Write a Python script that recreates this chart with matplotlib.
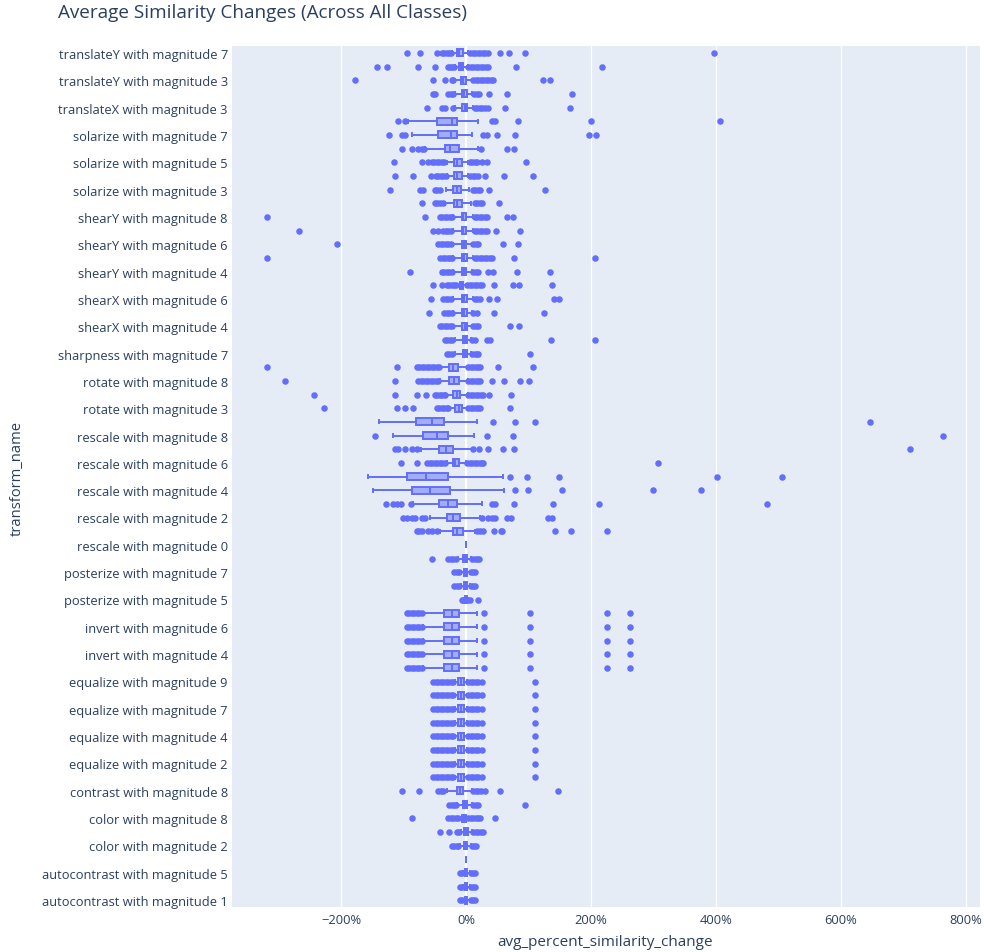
import matplotlib
matplotlib.use("Agg")
import matplotlib.pyplot as plt
from matplotlib.ticker import FuncFormatter, FixedLocator

plt.rcParams['font.family'] = ['Open Sans', 'DejaVu Sans']

# ---------------- data (values in percent) ----------------
categories = [
    "autocontrast with magnitude 1", "autocontrast with magnitude 3", "autocontrast with magnitude 5",
    "autocontrast with magnitude 9", "color with magnitude 2", "color with magnitude 5",
    "color with magnitude 8", "contrast with magnitude 2", "contrast with magnitude 8",
    "equalize with magnitude 1", "equalize with magnitude 2", "equalize with magnitude 3",
    "equalize with magnitude 4", "equalize with magnitude 6", "equalize with magnitude 7",
    "equalize with magnitude 8", "equalize with magnitude 9", "invert with magnitude 2",
    "invert with magnitude 4", "invert with magnitude 5", "invert with magnitude 6",
    "invert with magnitude 8", "posterize with magnitude 5", "posterize with magnitude 6",
    "posterize with magnitude 7", "posterize with magnitude 8", "rescale with magnitude 0",
    "rescale with magnitude 1", "rescale with magnitude 2", "rescale with magnitude 3",
    "rescale with magnitude 4", "rescale with magnitude 5", "rescale with magnitude 6",
    "rescale with magnitude 7", "rescale with magnitude 8", "rescale with magnitude 9",
    "rotate with magnitude 3", "rotate with magnitude 5", "rotate with magnitude 8",
    "rotate with magnitude 9", "sharpness with magnitude 7", "shearX with magnitude 2",
    "shearX with magnitude 4", "shearX with magnitude 5", "shearX with magnitude 6",
    "shearY with magnitude 2", "shearY with magnitude 4", "shearY with magnitude 5",
    "shearY with magnitude 6", "shearY with magnitude 7", "shearY with magnitude 8",
    "solarize with magnitude 2", "solarize with magnitude 3", "solarize with magnitude 4",
    "solarize with magnitude 5", "solarize with magnitude 6", "solarize with magnitude 7",
    "solarize with magnitude 8", "translateX with magnitude 3", "translateX with magnitude 7",
    "translateY with magnitude 3", "translateY with magnitude 5", "translateY with magnitude 7",
]

# box statistics per category (same order as categories)
whisker_low = [-4, -4, -4, 0, -10, -8, -10, -14, -31,
               -18, -18, -18, -18, -18, -18, -18, -18,
               -68, -68, -68, -68, -68,
               -3, -8, -8, -12,
               0, -42, -58, -84, -149, -156, -31, -72, -116, -139,
               -27, -33, -42, -42,
               -18, -18, -20, -20, -20,
               -14, -20, -20, -20, -20, -20,
               -33, -32, -31, -31, -66, -86, -92,
               -18, -18, -18, -17, -22]
q1 = [-1, -1, -1, 0, -3, -3, -6, -4, -15,
      -12, -12, -12, -12, -12, -12, -12, -12,
      -35, -35, -35, -35, -35,
      -1, -3, -3, -4,
      0, -21, -31, -43, -87, -95, -21, -43, -69, -80,
      -17, -21, -27, -27,
      -5, -5, -6, -6, -6,
      -10, -7, -6, -6, -7, -7,
      -19, -21, -19, -19, -34, -44, -47,
      -6, -7, -8, -11, -15]
median = [0, 0, 0, 0, 0, 0, -3, -1, -10,
          -8, -8, -8, -8, -8, -8, -8, -8,
          -23, -23, -23, -23, -23,
          0, 0, 0, -1,
          0, -14, -20, -29, -58, -64, -17, -32, -47, -55,
          -11, -15, -19, -20,
          -2, -2, -2, -3, -3,
          -8, -3, -3, -3, -4, -4,
          -14, -15, -14, -14, -26, -24, -23,
          -2, -3, -4, -8, -11]
q3 = [2, 2, 2, 0, 2, 3, 0, 2, -4,
      -3, -3, -3, -3, -3, -3, -3, -3,
      -11, -11, -11, -11, -11,
      1, 2, 2, 2,
      0, -5, -10, -15, -26, -29, -11, -20, -28, -35,
      -6, -9, -11, -12,
      1, 1, 1, 1, 1,
      -5, 0, 1, 0, 0, 0,
      -6, -8, -7, -7, -11, -15, -15,
      2, 1, 0, -5, -4]
whisker_high = [6, 6, 6, 0, 8, 10, 3, 10, 9,
                2, 2, 2, 2, 2, 2, 2, 2,
                17, 17, 17, 17, 17,
                3, 6, 6, 8,
                0, 15, 22, 25, 61, 60, 0, 9, 13, 17,
                3, 3, 3, 2,
                8, 8, 10, 10, 12,
                0, 10, 12, 10, 12, 12,
                8, 5, 4, 4, 20, 9, 19,
                12, 10, 10, 3, 4]

# outlier points per category
autocontrast_pts = [-10, -7, 8, 11, 14]
equalize_pts = [-52, -48, -44, -40, -36, -32, -28, -24, -20, 4, 8, 12, 16, 20, 25, 111]
invert_pts = [-95, -91, -87, -83, -79, -75, -71, 29, 102, 225, 262]
posterize_67_pts = [-19, -15, -11, 8, 11, 14]

outliers = [
    autocontrast_pts,                                                   # autocontrast 1
    autocontrast_pts,                                                   # autocontrast 3
    autocontrast_pts,                                                   # autocontrast 5
    [],                                                                 # autocontrast 9
    [-23, -19, -15, -12, 10, 13, 16],                                   # color 2
    [-42, -27, -15, -11, 12, 16, 20, 24, 28],                           # color 5
    [-87, -28, -24, -20, -16, -12, 4, 8, 12, 16, 20, 22, 47],           # color 8
    [-27, -23, -19, -16, 12, 16, 20, 95],                               # contrast 2
    [-102, -75, -44, -40, -36, 12, 16, 20, 24, 30, 54, 147],            # contrast 8
    equalize_pts, equalize_pts, equalize_pts, equalize_pts,
    equalize_pts, equalize_pts, equalize_pts, equalize_pts,
    invert_pts, invert_pts, invert_pts, invert_pts, invert_pts,
    [-7, -5, 4, 6, 20],                                                 # posterize 5
    posterize_67_pts,                                                   # posterize 6
    posterize_67_pts,                                                   # posterize 7
    [-55, -28, -24, -20, -16, 10, 14, 18, 21],                          # posterize 8
    [],                                                                 # rescale 0
    [-79, -75, -71, -60, -55, -47, 18, 22, 27, 45, 56, 58, 142, 168, 226],  # rescale 1
    [-100, -94, -87, -81, -71, -65, 25, 36, 42, 46, 66, 72, 132, 137],  # rescale 2
    [-128, -117, -110, -104, -88, 41, 46, 77, 140, 213, 481],           # rescale 3
    [79, 100, 154, 300, 376],                                           # rescale 4
    [70, 97, 149, 402, 505],                                            # rescale 5
    [-104, -79, -62, -58, -54, -50, -46, -42, -38, -34,
     2, 6, 10, 14, 18, 22, 26, 28, 307],                                # rescale 6
    [-113, -108, -98, -87, -79, 11, 21, 35, 59, 77, 711],               # rescale 7
    [-145, 34, 75, 763],                                                # rescale 8
    [43, 79, 110, 646],                                                 # rescale 9
    [-228, -111, -98, -85, -47, -43, -39, -35, -31, -28,
     4, 8, 12, 16, 20, 22, 70],                                         # rotate 3
    [-243, -114, -79, -64, -50, -46, -42, -38, -34,
     4, 8, 12, 16, 20, 24, 28, 37, 72],                                 # rotate 5
    [-290, -114, -76, -72, -68, -64, -60, -56, -52, -48, -45,
     4, 8, 12, 16, 20, 22, 41, 61, 87, 101],                            # rotate 8
    [-318, -111, -79, -75, -71, -67, -63, -59, -55, -51, -47, -43,
     4, 8, 12, 16, 20, 22, 52, 108],                                    # rotate 9
    [-31, -27, -23, 10, 14, 18, 20, 102],                               # sharpness 7
    [-34, -30, -26, -22, 10, 14, 34, 39, 136, 206],                     # shearX 2
    [-42, -38, -34, -30, -26, -23, 12, 16, 19, 70, 85],                 # shearX 4
    [-59, -35, -31, -27, -23, 12, 17, 45, 125],                         # shearX 5
    [-56, -36, -32, -28, -24, 14, 18, 22, 37, 49, 141, 149],            # shearX 6
    [-53, -39, -31, -27, -23, -19, -16, 2, 6, 10, 14, 18, 22, 25,
     45, 75, 85, 138],                                                  # shearY 2
    [-90, -39, -35, -31, -27, -23, 12, 16, 20, 36, 44, 82, 135],        # shearY 4
    [-319, -41, -37, -33, -29, -25, -22, 14, 18, 22, 26, 30, 34, 38, 41,
     77, 206],                                                          # shearY 5
    [-206, -44, -40, -36, -32, -28, -24, 12, 16, 20, 59, 84],           # shearY 6
    [-268, -53, -44, -36, -32, -28, -24, 14, 18, 22, 26, 30, 34, 48, 86],  # shearY 7
    [-318, -65, -42, -38, -34, -30, -26, -22, 14, 18, 22, 26, 30, 33,
     65, 76],                                                           # shearY 8
    [-70, -50, -46, -42, -37, 14, 18, 22, 26, 53],                      # solarize 2
    [-122, -74, -68, -50, -46, -42, 11, 15, 19, 22, 37, 127],           # solarize 3
    [-114, -84, -56, -48, -44, -40, -36, -32, 7, 11, 15, 19, 30, 61, 108],  # solarize 4
    [-115, -70, -60, -55, -51, -47, -43, -39, -35, 6, 10, 14, 18, 25, 34, 96],  # solarize 5
    [-102, -86, -76, -71, -67, 24, 66, 77],                             # solarize 6
    [-123, -103, -98, 28, 34, 49, 78, 197, 208],                        # solarize 7
    [-108, -98, 41, 46, 83, 200, 406],                                  # solarize 8
    [-63, -39, -33, -20, 14, 18, 22, 26, 30, 35, 62, 166],              # translateX 3
    [-53, -49, -28, -24, -20, 13, 17, 21, 37, 66, 169],                 # translateX 7
    [-178, -52, -34, -23, -20, 12, 16, 20, 24, 28, 32, 36, 40, 44, 124, 134],  # translateY 3
    [-142, -127, -76, -50, -28, -25, -22, -19, 4, 8, 12, 16, 20, 24, 28,
     32, 36, 80, 218],                                                  # translateY 5
    [-95, -74, -47, -39, -35, -31, -27, -24, 7, 11, 15, 19, 23, 27, 31, 35,
     54, 69, 94, 397],                                                  # translateY 7
]

x_ticks = [-200, 0, 200, 400, 600, 800]
title = "Average Similarity Changes (Across All Classes)"
x_title = "avg_percent_similarity_change"
y_title = "transform_name"

# ---------------- drawing ----------------
BLUE = "#636efa"
TEXT = "#2a3f5f"
BG = "#E5ECF6"

fig = plt.figure(figsize=(9.84, 9.53), dpi=100)
ax = fig.add_axes([232 / 984, 1 - 908 / 953, (980 - 232) / 984, (908 - 47) / 953])
ax.set_facecolor(BG)

stats = []
for i, name in enumerate(categories):
    stats.append(dict(label=name, whislo=whisker_low[i], q1=q1[i], med=median[i],
                      q3=q3[i], whishi=whisker_high[i], fliers=outliers[i]))

positions = list(range(len(categories)))
ax.bxp(stats, positions=positions, orientation='horizontal', widths=0.5,
       patch_artist=True, capwidths=0.22,
       boxprops=dict(facecolor=(99 / 255, 110 / 255, 250 / 255, 0.5), edgecolor=BLUE, linewidth=1.4),
       medianprops=dict(color=BLUE, linewidth=1.4),
       whiskerprops=dict(color=BLUE, linewidth=1.4),
       capprops=dict(color=BLUE, linewidth=1.4),
       flierprops=dict(marker='o', markerfacecolor=BLUE, markeredgecolor=BLUE,
                       markeredgewidth=0, markersize=4.7, alpha=1.0),
       zorder=3)

ax.set_xlim(-374.4, 822.4)
ax.set_ylim(-0.5, len(categories) - 0.5)

# grid
for xv in x_ticks:
    if xv == 0:
        ax.axvline(xv, color="white", linewidth=1.6, zorder=1)
    else:
        ax.axvline(xv, color="white", linewidth=0.9, zorder=1)

ax.xaxis.set_major_locator(FixedLocator(x_ticks))
ax.xaxis.set_major_formatter(FuncFormatter(lambda v, p: f"{int(v)}%".replace("-", "\u2212")))
ax.set_yticks(positions[::2])
ax.set_yticklabels(categories[::2])
ax.tick_params(axis='both', length=0, labelsize=9.3, labelcolor=TEXT)
ax.tick_params(axis='y', pad=3)
ax.tick_params(axis='x', pad=4)
for s in ax.spines.values():
    s.set_visible(False)

fig.text(605 / 984, 1 - 943 / 953, x_title, fontsize=11.0, color=TEXT, ha='center', va='center')
fig.text(17 / 984, 1 - 478 / 953, y_title, rotation=90, fontsize=10.6, color=TEXT,
         ha='center', va='center')
fig.text(58 / 984, 1 - 13 / 953, title, fontsize=13.6, color=TEXT, ha='left', va='center')

fig.savefig("out.png", dpi=100, facecolor="white")
